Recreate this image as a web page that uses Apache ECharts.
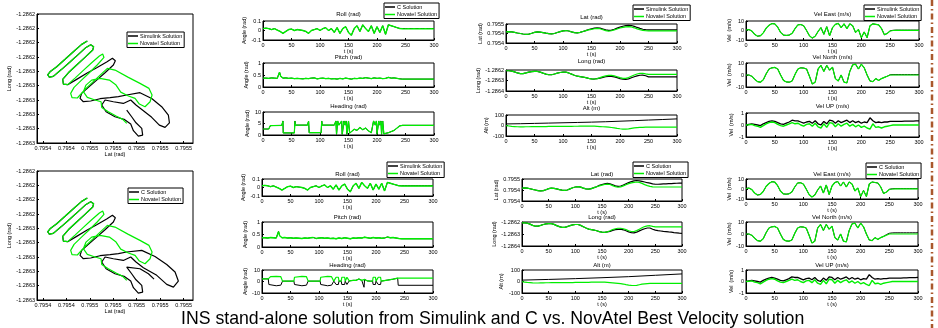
<!DOCTYPE html>
<html>
<head>
<meta charset="utf-8">
<script src="https://cdn.jsdelivr.net/npm/echarts@6/dist/echarts.min.js"></script>
<style>
  html, body { margin: 0; padding: 0; background: #fff; }
  #chart { width: 938px; height: 328px; }
</style>
</head>
<body>
<div id="chart"></div>
<script>
// ---- data ----
const tSec = [0,5,10,15,20,25,30,35,40,45,50,55,60,65,70,75,80,85,90,95,100,105,110,115,120,125,130,135,140,145,
  150,155,160,165,170,175,180,185,190,195,200,205,210,215,220,225,230,235,240,245,250,255,260,265,270,275,280,285,290,295,300];

// lat tick values on the trajectory plots
const trajLatTicks = [0.79542,0.79544,0.79546,0.79548,0.7955,0.79552,0.79554];

const rollNov = [0.02,0.025,0.02,0.01,0.02,0.005,-0.01,-0.03,-0.01,0.01,0.015,0,0.01,0.005,0,-0.01,-0.03,0,0.01,0.02,
  0,0.02,0.03,0,0.02,-0.02,0.03,-0.03,0.02,0.04,-0.02,-0.05,0.02,0.05,-0.01,0.06,0.02,-0.01,0.05,-0.03,
  0.04,-0.02,0.05,-0.04,0.06,0.05,0.04,0.03,0.02,0.018,0.017,0.018,0.017,0.018,0.017,0.018,0.017,0.018,0.017,0.018,0.017];
const rollSol = [0.02,0.025,0.02,0.01,0.02,0.005,-0.01,-0.03,-0.01,0.01,0.015,0,0.01,0.005,0,-0.01,-0.03,0,0.01,0.02,
  0,0.02,0.03,0,0.02,-0.02,0.03,-0.03,0.02,0.04,-0.02,-0.05,0.02,0.05,-0.01,0.06,0.02,-0.01,0.05,-0.03,
  0.04,-0.02,0.05,-0.04,0.06,0.05,0.04,0.03,0.022,0.021,0.021,0.021,0.021,0.021,0.021,0.021,0.021,0.021,0.021,0.021,0.021];

const pitchNov = [[0,0.37],[5,0.37],[10,0.36],[15,0.38],[20,0.37],[25,0.36],[28,0.37],[29,0.62],[30,0.66],[31,0.45],[32,0.38],
  [35,0.37],[40,0.38],[45,0.36],[50,0.37],[55,0.35],[60,0.36],[65,0.35],[70,0.34],[75,0.36],[80,0.35],[85,0.37],[90,0.38],
  [95,0.34],[100,0.36],[105,0.37],[110,0.35],[115,0.36],[120,0.34],[125,0.35],[130,0.33],[135,0.36],[140,0.34],[145,0.37],
  [150,0.35],[155,0.33],[160,0.36],[165,0.35],[170,0.37],[175,0.36],[180,0.39],[185,0.37],[190,0.35],[195,0.38],[200,0.36],
  [205,0.37],[210,0.35],[215,0.36],[220,0.4],[225,0.37],[230,0.38],[235,0.36],[240,0.34],[245,0.33],[300,0.33]];

const headTopNov = [[0,2.6],[10,2.6],[13,4.1],[33,4.2],[35,6.1],[35.5,0.9],[55,0.9],[56,6.1],[57,4.3],[78,4.3],[80,6.0],
  [81,1.0],[102,1.0],[103,6.1],[104,4.3],[125,4.3],[128,6.1],[129,0.3],[131,6.1],[133,4.3],[138,6.1],[139,0.3],[142,6.1],
  [144,4.3],[146,6.1],[147,0.3],[150,6.1],[152,0.8],[155,1.0],[160,2.5],[165,2.0],[170,3.3],[175,2.3],[180,3.0],[185,1.8],
  [190,1.0],[192,0.5],[194,6.1],[197,4.3],[199,6.1],[200,0.3],[203,6.1],[205,4.3],[207,6.1],[208,0.3],[210,6.1],[212,0.5],
  [220,1.0],[230,2.0],[240,4.0],[245,4.2],[300,4.2]];

const headBotNov = [[0,2.3],[11,2.3],[12,3.7],[15,4.2],[25,4.4],[33,4.2],[35,3.7],[36,0.3],[56,0.3],[57,3.7],[60,4.2],[70,4.4],
  [78,4.2],[80,3.7],[81,0.3],[102,0.3],[103,3.7],[106,4.2],[115,4.4],[122,4.2],[125,3.7],[126,0.3],[129,0.3],[130,3.7],[134,3.7],
  [135,0.3],[139,0.3],[140,3.7],[145,3.7],[146,0.3],[148,0.3],[149,3.7],[152,3.7],[153,0.5],[160,1.0],[165,1.0],[170,2.2],
  [175,1.0],[180,1.8],[185,0.5],[190,0.3],[194,0.3],[195,3.7],[199,3.7],[200,0.3],[203,0.3],[204,3.7],[208,3.7],[209,0.3],
  [212,0.3],[220,1.2],[230,2.0],[238,2.9],[240,3.0],[300,3.0]];
const headBotSol = [[0,2.3],[11,2.3],[12,-2.6],[15,-3.2],[25,-3.7],[33,-3.2],[35,-2.6],[36,0.3],[56,0.3],[57,-2.6],[60,-3.2],
  [70,-3.7],[78,-3.2],[80,-2.6],[81,0.3],[102,0.3],[103,-2.6],[106,-3.2],[115,-3.7],[122,-3.2],[125,-2.6],[126,0.3],[129,0.3],
  [130,-2.6],[134,-2.6],[135,0.3],[139,0.3],[140,-2.6],[145,-2.6],[146,0.3],[148,0.3],[149,-2.6],[152,-2.6],[153,0.5],[160,1.0],
  [165,1.0],[170,2.2],[175,1.0],[178,1.5],[179,-5.0],[180,1.8],[185,0.5],[190,0.3],[194,0.3],[195,-2.6],[199,-2.6],[200,0.3],
  [203,0.3],[204,-2.6],[208,-2.6],[209,0.3],[212,0.3],[220,1.2],[230,2.0],[238,2.9],[239,-3.3],[300,-3.3]];

const latNov = [0.795454,0.795455,0.795453,0.795449,0.795444,0.795440,0.795436,0.795433,0.795435,0.795442,
  0.795450,0.795454,0.795452,0.795448,0.795443,0.795439,0.795437,0.795440,0.795448,0.795456,
  0.795462,0.795465,0.795461,0.795454,0.795448,0.795446,0.795450,0.795457,0.795464,0.795470,
  0.795475,0.795480,0.795483,0.795480,0.795472,0.795464,0.795460,0.795463,0.795470,0.795478,
  0.795486,0.795492,0.795496,0.795498,0.795495,0.795488,0.795479,0.795472,0.795466,0.795463,
  0.795462,0.795462,0.795462,0.795462,0.795462,0.795462,0.795462,0.795462,0.795462,0.795462,0.795462];
const latSim = [0.795454,0.795455,0.795453,0.795449,0.795444,0.795440,0.795436,0.795433,0.795435,0.795442,
  0.795450,0.795454,0.795452,0.795448,0.795443,0.795439,0.795437,0.795440,0.795448,0.795456,
  0.795462,0.795465,0.795461,0.795454,0.795448,0.795446,0.795450,0.795457,0.795464,0.795474,
  0.795480,0.795485,0.795488,0.795485,0.795478,0.795470,0.795466,0.795469,0.795476,0.795485,
  0.795494,0.795501,0.795506,0.795509,0.795507,0.795500,0.795491,0.795483,0.795476,0.795472,
  0.795470,0.795470,0.795470,0.795470,0.795470,0.795470,0.795470,0.795470,0.795470,0.795470,0.795470];
const latC = [0.795454,0.795455,0.795453,0.795449,0.795444,0.795440,0.795436,0.795433,0.795435,0.795442,
  0.795450,0.795454,0.795452,0.795448,0.795443,0.795439,0.795437,0.795440,0.795448,0.795456,
  0.795462,0.795465,0.795461,0.795454,0.795448,0.795446,0.795450,0.795457,0.795464,0.795474,
  0.795480,0.795485,0.795488,0.795485,0.795478,0.795470,0.795466,0.795469,0.795476,0.795485,
  0.795494,0.795501,0.795506,0.795509,0.795507,0.795503,0.795498,0.795493,0.795490,0.795485,
  0.795482,0.795482,0.795483,0.795484,0.795485,0.795486,0.795487,0.795488,0.795489,0.795490,0.795490];

const longNov = [-1.286207,-1.286207,-1.286210,-1.286218,-1.286228,-1.286235,-1.286234,-1.286228,-1.286221,-1.286216,
  -1.286214,-1.286214,-1.286220,-1.286230,-1.286239,-1.286245,-1.286245,-1.286238,-1.286230,-1.286224,
  -1.286221,-1.286221,-1.286228,-1.286239,-1.286250,-1.286259,-1.286263,-1.286267,-1.286273,-1.286280,
  -1.286285,-1.286286,-1.286282,-1.286273,-1.286263,-1.286256,-1.286252,-1.286252,-1.286256,-1.286264,
  -1.286273,-1.286279,-1.286279,-1.286272,-1.286260,-1.286248,-1.286238,-1.286232,-1.286231,-1.286237,
  -1.286241,-1.286241,-1.286241,-1.286241,-1.286241,-1.286241,-1.286241,-1.286241,-1.286241,-1.286241,-1.286241];
const longSim = [-1.286207,-1.286207,-1.286210,-1.286218,-1.286228,-1.286235,-1.286234,-1.286228,-1.286221,-1.286216,
  -1.286214,-1.286214,-1.286220,-1.286230,-1.286239,-1.286245,-1.286245,-1.286238,-1.286230,-1.286224,
  -1.286221,-1.286221,-1.286228,-1.286239,-1.286250,-1.286259,-1.286263,-1.286267,-1.286273,-1.286280,
  -1.286285,-1.286286,-1.286282,-1.286278,-1.286270,-1.286264,-1.286262,-1.286260,-1.286265,-1.286273,
  -1.286282,-1.286288,-1.286290,-1.286285,-1.286274,-1.286264,-1.286256,-1.286250,-1.286249,-1.286255,
  -1.286265,-1.286265,-1.286265,-1.286265,-1.286265,-1.286265,-1.286265,-1.286265,-1.286265,-1.286265,-1.286265];
const longC = [-1.286207,-1.286207,-1.286210,-1.286218,-1.286228,-1.286235,-1.286234,-1.286228,-1.286221,-1.286216,
  -1.286214,-1.286214,-1.286220,-1.286230,-1.286239,-1.286245,-1.286245,-1.286238,-1.286230,-1.286224,
  -1.286221,-1.286221,-1.286228,-1.286239,-1.286250,-1.286259,-1.286263,-1.286267,-1.286273,-1.286280,
  -1.286285,-1.286286,-1.286282,-1.286278,-1.286270,-1.286264,-1.286262,-1.286260,-1.286265,-1.286273,
  -1.286282,-1.286288,-1.286290,-1.286285,-1.286274,-1.286264,-1.286256,-1.286250,-1.286250,-1.286260,
  -1.286268,-1.286272,-1.286275,-1.286278,-1.286280,-1.286283,-1.286285,-1.286288,-1.286290,-1.286293,-1.286295];

const altNov = [-2,-5,-8,-10,-12,-13,-13,-12,-12,-11,-11,-10,-10,-10,-10,-9,-9,-9,-9,-9,
  -8,-8,-8,-8,-7,-7,-6,-6,-5,-5,-5,-6,-8,-10,-12,-14,-16,-19,-22,-27,
  -31,-34,-35,-33,-28,-23,-20,-18,-17,-16,-16,-16,-16,-16,-16,-16,-16,-16,-16,-16,-16];
const altSim = [[0,15],[25,17],[50,20],[75,23],[100,26],[125,29],[150,32],[175,36],[200,41],[225,46],[250,52],[275,57],[300,63]];
const altC = [[0,12],[50,18],[100,25],[150,33],[200,42],[250,54],[300,66]];

const velEastNov = [0.5,1,-0.5,-4,-6,-5.5,-2.5,2.5,5.5,7.3,7,3.5,-2,-4.8,-5.2,-4.8,-3,2,6,6.3,
  5,0,-5.5,-8,-6,-1,3,-4,4,-5.5,3,6.5,7.5,3,7,2,7,5,-2,1,
  -7.5,-1.5,-7.5,5,7,6.5,6,2,-4.5,-3,-0.5,0,0.2,0.2,0.2,0.2,0.2,0.2,0.2,0.2,0.2];
const velEastSol = [0.5,1,-0.5,-4,-6,-5.5,-2.5,2.5,5.5,7.3,7,3.5,-2,-4.8,-5.2,-4.8,-3,2,6,6.3,
  5,0,-5.5,-8,-6,-1,3,-4,4,-5.5,3,6.5,7.5,3,7,2,7,5,-2,1,
  -7.5,-1.5,-7.5,5,7,6.5,6,2,-4.5,-3,-0.3,0.2,0.4,0.4,0.4,0.4,0.4,0.4,0.4,0.4,0.4];

const velNorthNov = [0,0,-1,-3.5,-5.5,-6,-4,1,5,6,6.3,5,0,-4.5,-5.8,-6,-5,0.5,5,6,
  5.8,5,-1,-7.5,-6,5,8,3,8,4,6.5,-3,-5,0,-6,-6.5,3,8.5,9,5,
  9,6,0,-5,-5.5,-3,-4.5,-3,-2,-1,0,0,0,0,0,0,0,0,0,0,0];
const velNorthSim = [0,0,-1,-3.5,-5.5,-6,-4,1,5,6,6.3,5,0,-4.5,-5.8,-6,-5,0.5,5,6,
  5.8,5,-1,-7.5,-6,5,8,3,8,4,6.5,-3,-5,0,-6,-6.5,3,8.5,9,5,
  9,6,0,-5,-5.5,-3,-4.5,-3,-2,-1,0.2,0.3,0.3,0.3,0.3,0.3,0.3,0.3,0.3,0.3,0.3];
const velNorthC = [0,0,-1,-3.5,-5.5,-6,-4,1,5,6,6.3,5,0,-4.5,-5.8,-6,-5,0.5,5,6,
  5.8,5,-1,-7.5,-6,5,8,3,8,4,6.5,-3,-5,0,-6,-6.5,3,8.5,9,5,
  9,6,0,-5,-5.5,-3,-4.5,-3,-2,-0.5,0.6,0.9,1,1,1,1,1,1,1,1,1];

const velUpNov = [0,0.02,0.05,-0.05,-0.1,-0.2,-0.05,0.1,0.2,0.25,0.2,0.05,-0.05,-0.1,0,0.1,0.2,0.1,0.15,0,
  -0.1,0.05,0.1,-0.1,0.15,-0.15,-0.25,0.1,-0.2,0.2,0.15,-0.15,0.1,-0.1,0.05,0.15,-0.1,0.05,-0.15,0,
  -0.2,-0.1,-0.25,-0.35,0.1,-0.2,-0.15,-0.25,-0.15,-0.1,-0.05,0,0,0,0,0,0,0,0,0,0];
const velUpSol = [0,0.05,0.1,0.05,0,-0.05,0.1,0.2,0.3,0.35,0.3,0.2,0.1,0.05,0.15,0.25,0.4,0.35,0.35,0.25,
  0.15,0.25,0.3,0.15,0.35,0.1,0,0.3,0.1,0.4,0.35,0.15,0.35,0.2,0.3,0.4,0.2,0.35,0.2,0.3,
  0.15,0.25,0.2,0.6,0.35,0.2,0.25,0.2,0.25,0.25,0.3,0.3,0.3,0.3,0.3,0.32,0.32,0.33,0.33,0.34,0.35];

// trajectory (lat, long)
const trajNovLat = [0.7954579,0.7954531,0.7954460,0.7954389,0.7954318,0.7954261,0.7954241,0.7954255,0.7954289,0.7954360,
  0.7954431,0.7954503,0.7954568,0.7954608,0.7954633,0.7954625,0.7954559,0.7954488,0.7954417,0.7954369,
  0.7954375,0.7954412,0.7954474,0.7954545,0.7954616,0.7954682,0.7954710,0.7954721,0.7954665,0.7954596,
  0.7954525,0.7954466,0.7954437,0.7954449,0.7954494,0.7954568,0.7954659,0.7954750,0.7954815,0.7954929,
  0.7955028,0.7955105,0.7955131,0.7955114,0.7955071,0.7955023,0.7954986,0.7954929,0.7954864,0.7954824,
  0.7954767,0.7954687,0.7954616,0.7954568,0.7954545,0.7954579,0.7954645,0.7954696,0.7954702,0.7954758,
  0.7954824,0.7954881,0.7954915];
const trajNovLong = [-1.2862288,-1.2862312,-1.2862363,-1.2862416,-1.2862468,-1.2862503,-1.2862524,-1.2862540,-1.2862535,-1.2862486,
  -1.2862435,-1.2862382,-1.2862333,-1.2862314,-1.2862328,-1.2862351,-1.2862403,-1.2862456,-1.2862510,-1.2862556,
  -1.2862589,-1.2862593,-1.2862547,-1.2862493,-1.2862440,-1.2862393,-1.2862379,-1.2862403,-1.2862454,-1.2862510,
  -1.2862565,-1.2862612,-1.2862654,-1.2862684,-1.2862686,-1.2862619,-1.2862549,-1.2862479,-1.2862491,-1.2862542,
  -1.2862584,-1.2862619,-1.2862665,-1.2862712,-1.2862747,-1.2862728,-1.2862689,-1.2862672,-1.2862645,-1.2862596,
  -1.2862561,-1.2862549,-1.2862561,-1.2862596,-1.2862642,-1.2862682,-1.2862700,-1.2862712,-1.2862752,-1.2862782,
  -1.2862812,-1.2862835,-1.2862863];

const trajSimLat = [0.7954579,0.7954531,0.7954460,0.7954389,0.7954318,0.7954261,0.7954241,0.7954255,0.7954289,0.7954360,
  0.7954431,0.7954503,0.7954568,0.7954608,0.7954633,0.7954625,0.7954559,0.7954488,0.7954417,0.7954369,
  0.7954375,0.7954412,0.7954488,0.7954574,0.7954659,0.7954744,0.7954793,0.7954818,0.7954801,0.7954730,
  0.7954659,0.7954588,0.7954531,0.7954517,0.7954545,0.7954608,0.7954687,0.7954773,0.7954844,0.7954915,
  0.7955028,0.7955128,0.7955213,0.7955270,0.7955279,0.7955242,0.7955193,0.7955128,0.7955057,0.7954994,
  0.7954949,0.7954886,0.7954801,0.7954730,0.7954702,0.7954739,0.7954815,0.7954892,0.7954949,0.7954972,
  0.7955014,0.7955051,0.7955043,0.7954994,0.7954957,0.7954915];
const trajSimLong = [-1.2862288,-1.2862312,-1.2862363,-1.2862416,-1.2862468,-1.2862503,-1.2862524,-1.2862540,-1.2862535,-1.2862486,
  -1.2862435,-1.2862382,-1.2862333,-1.2862314,-1.2862328,-1.2862351,-1.2862403,-1.2862456,-1.2862510,-1.2862556,
  -1.2862589,-1.2862593,-1.2862556,-1.2862514,-1.2862475,-1.2862435,-1.2862409,-1.2862426,-1.2862456,-1.2862510,
  -1.2862561,-1.2862612,-1.2862654,-1.2862689,-1.2862712,-1.2862707,-1.2862691,-1.2862684,-1.2862677,-1.2862665,
  -1.2862649,-1.2862689,-1.2862747,-1.2862805,-1.2862859,-1.2862891,-1.2862875,-1.2862821,-1.2862775,-1.2862735,
  -1.2862700,-1.2862724,-1.2862712,-1.2862700,-1.2862735,-1.2862782,-1.2862817,-1.2862835,-1.2862868,-1.2862914,
  -1.2862952,-1.2862945,-1.2862898,-1.2862859,-1.2862817,-1.2862770];

const trajCLat = [0.7954579,0.7954531,0.7954460,0.7954389,0.7954318,0.7954261,0.7954241,0.7954255,0.7954289,0.7954360,
  0.7954431,0.7954503,0.7954568,0.7954608,0.7954633,0.7954625,0.7954559,0.7954488,0.7954417,0.7954369,
  0.7954375,0.7954412,0.7954488,0.7954574,0.7954659,0.7954744,0.7954793,0.7954818,0.7954801,0.7954730,
  0.7954659,0.7954588,0.7954531,0.7954517,0.7954545,0.7954608,0.7954687,0.7954773,0.7954844,0.7954915,
  0.7955043,0.7955156,0.7955256,0.7955327,0.7955355,0.7955313,0.7955256,0.7955171,0.7955057,0.7954994,
  0.7954949,0.7954886,0.7954801,0.7954730,0.7954702,0.7954739,0.7954815,0.7954892,0.7954949,0.7954972,
  0.7955014,0.7955051,0.7955043,0.7954994,0.7954957,0.7954915,0.7955028,0.7955100,0.7955148];
const trajCLong = [-1.2862288,-1.2862312,-1.2862363,-1.2862416,-1.2862468,-1.2862503,-1.2862524,-1.2862540,-1.2862535,-1.2862486,
  -1.2862435,-1.2862382,-1.2862333,-1.2862314,-1.2862328,-1.2862351,-1.2862403,-1.2862456,-1.2862510,-1.2862556,
  -1.2862589,-1.2862593,-1.2862556,-1.2862514,-1.2862475,-1.2862435,-1.2862409,-1.2862426,-1.2862456,-1.2862510,
  -1.2862561,-1.2862612,-1.2862654,-1.2862689,-1.2862712,-1.2862707,-1.2862691,-1.2862684,-1.2862677,-1.2862665,
  -1.2862654,-1.2862696,-1.2862752,-1.2862805,-1.2862868,-1.2862910,-1.2862891,-1.2862828,-1.2862775,-1.2862735,
  -1.2862700,-1.2862724,-1.2862712,-1.2862700,-1.2862735,-1.2862782,-1.2862817,-1.2862835,-1.2862868,-1.2862914,
  -1.2862952,-1.2862945,-1.2862898,-1.2862859,-1.2862817,-1.2862770,-1.2862782,-1.2862817,-1.2862854];

const caption = 'INS stand-alone solution from Simulink and C vs. NovAtel Best Velocity solution';

// ---- layout / styling ----
const FONT = 'Liberation Sans';
const BLACK = '#000000';
const GREEN = '#00ee00';

const grids = [], xAxes = [], yAxes = [], series = [], legends = [], graphics = [];

function panel(box, c) {
  const gi = grids.length;
  grids.push({ left: box[0], top: box[1], width: box[2], height: box[3], show: true,
    borderColor: '#000', borderWidth: 1, backgroundColor: '#fff' });
  const lbl = { fontSize: 5.5, fontFamily: FONT, color: '#000', margin: 2 };
  const xLabel = Object.assign({}, lbl, { formatter: c.xFmt, showMinLabel: true, showMaxLabel: true });
  const xTick = { inside: true, length: 2, lineStyle: { color: '#000' } };
  if (c.xTicks) { xLabel.customValues = c.xTicks; xTick.customValues = c.xTicks; }
  xAxes.push({
    gridIndex: gi, type: 'value',
    min: c.xMin != null ? c.xMin : 0, max: c.xMax != null ? c.xMax : 300, interval: c.xInt || 50,
    name: c.xName || 't (s)', nameLocation: 'middle', nameGap: c.xGap || 6,
    nameTextStyle: { fontSize: 5.5, fontFamily: FONT, color: '#000' },
    axisLine: { show: true, onZero: false, lineStyle: { color: '#000', width: 1 } },
    axisTick: xTick,
    axisLabel: xLabel,
    splitLine: { show: false }
  });
  yAxes.push({
    gridIndex: gi, type: 'value', min: c.yMin, max: c.yMax, interval: c.yInt,
    name: c.yName, nameLocation: 'middle', nameGap: c.yGap,
    nameTextStyle: { fontSize: 5.5, fontFamily: FONT, color: '#000' },
    axisLine: { show: true, onZero: false, lineStyle: { color: '#000', width: 1 } },
    axisTick: { inside: true, length: 2, lineStyle: { color: '#000' } },
    axisLabel: Object.assign({}, lbl, { formatter: c.yFmt, showMinLabel: true, showMaxLabel: true }),
    splitLine: { show: false }
  });
  if (c.title) {
    graphics.push({ type: 'text', x: box[0] + box[2] / 2, y: c.titleY,
      style: { text: c.title, fill: '#000', font: '6px ' + FONT, align: 'center', verticalAlign: 'middle' } });
  }
  return gi;
}

function line(gi, name, data, color, width) {
  series.push({ type: 'line', name: name, xAxisIndex: gi, yAxisIndex: gi, data: data,
    showSymbol: false, symbol: 'none', animation: false, silent: true,
    lineStyle: { color: color, width: width }, itemStyle: { color: color } });
}

const byTime = vals => tSec.map((t, i) => [t, vals[i]]);
const zip = (a, b) => a.map((v, i) => [v, b[i]]);

function legend(left, top, names) {
  legends.push({ data: names, left: left, top: top, orient: 'vertical', icon: 'rect',
    itemWidth: 10, itemHeight: 1.5, itemGap: 1.5, padding: [1, 2, 1, 1], selectedMode: false,
    backgroundColor: '#fff', borderColor: '#000', borderWidth: 1, borderRadius: 0,
    textStyle: { fontSize: 5.5, fontFamily: FONT, color: '#000', padding: [0, 0, 0, -3] } });
}

const fmt4 = v => v.toFixed(4);
const fmtLong = v => (v - 1e-9).toFixed(4);

function row(r) {
  const top = r === 0;
  const solName = top ? 'Simulink Solution' : 'C Solution';
  const attName = top ? 'C Solution' : 'Simulink Solution';

  // trajectory
  const tb = top ? [37, 14, 156, 129] : [37, 171, 156, 129];
  let g = panel(tb, { xMin: 0.795415, xMax: 0.795548, xInt: 0.00002, xFmt: fmt4, xTicks: trajLatTicks,
    xName: 'Lat (rad)', xGap: 7, yMin: -1.2863, yMax: -1.28621, yInt: 0.00001, yFmt: fmtLong,
    yName: 'Long (rad)', yGap: 24 });
  line(g, solName, top ? zip(trajSimLat, trajSimLong) : zip(trajCLat, trajCLong), BLACK, 1.2);
  line(g, 'Novatel Solution', zip(trajNovLat, trajNovLong), GREEN, 1.2);
  legend(top ? 127 : 128, top ? 32 : 188, [solName, 'Novatel Solution']);

  // attitude
  const ax = top ? 263 : 262;
  const rb = top ? [[21, 19, 14], [63, 24, 57], [112, 23, 106]] : [[179, 17, 174], [222, 25, 217], [270, 23, 265]];
  g = panel([ax, rb[0][0], 171, rb[0][1]], { yMin: -0.1, yMax: 0.1, yInt: 0.1, yName: 'Angle (rad)', yGap: 12,
    title: 'Roll (rad)', titleY: rb[0][2] });
  line(g, attName, byTime(rollSol), BLACK, 1);
  line(g, 'Novatel Solution', byTime(rollNov), GREEN, 1.4);
  g = panel([ax, rb[1][0], 171, rb[1][1]], { yMin: 0, yMax: 1, yInt: 0.5, yName: 'Angle (rad)', yGap: 12,
    title: 'Pitch (rad)', titleY: rb[1][2] });
  line(g, attName, pitchNov, BLACK, 1);
  line(g, 'Novatel Solution', pitchNov, GREEN, 1.3);
  g = panel([ax, rb[2][0], 171, rb[2][1]], top
    ? { yMin: 0, yMax: 10, yInt: 5, yName: 'Angle (rad)', yGap: 12, title: 'Heading (rad)', titleY: rb[2][2] }
    : { yMin: -10, yMax: 10, yInt: 10, yName: 'Angle (rad)', yGap: 12, title: 'Heading (rad)', titleY: rb[2][2] });
  line(g, attName, top ? headTopNov : headBotSol, BLACK, 1);
  line(g, 'Novatel Solution', top ? headTopNov : headBotNov, GREEN, 1.2);
  legend(top ? 384 : 387, top ? 3 : 162, [attName, 'Novatel Solution']);

  // position
  const px = top ? 506 : 522, pw = top ? 171 : 160;
  const pb = top ? [[24, 19, 17], [70, 21, 61], [115, 21, 108]] : [[179, 22, 174], [222, 24, 217], [270, 23, 265]];
  g = panel([px, pb[0][0], pw, pb[0][1]], { yMin: 0.79536, yMax: 0.79552, yInt: 0.00008, yFmt: fmt4,
    yName: 'Lat (rad)', yGap: top ? 19 : 20, title: 'Lat (rad)', titleY: pb[0][2] });
  line(g, solName, byTime(top ? latSim : latC), BLACK, 1.2);
  line(g, 'Novatel Solution', byTime(latNov), GREEN, 1.2);
  g = panel([px, pb[1][0], pw, pb[1][1]], { yMin: -1.2864, yMax: -1.2862, yInt: 0.0001, yFmt: fmt4,
    yName: 'Long (rad)', yGap: top ? 21 : 24, title: 'Long (rad)', titleY: pb[1][2] });
  line(g, solName, byTime(top ? longSim : longC), BLACK, 1.2);
  line(g, 'Novatel Solution', byTime(longNov), GREEN, 1.2);
  g = panel([px, pb[2][0], pw, pb[2][1]], { yMin: -100, yMax: 100, yInt: 100,
    yName: 'Alt (m)', yGap: top ? 13 : 18, title: 'Alt (m)', titleY: pb[2][2] });
  line(g, solName, top ? altSim : altC, BLACK, 1);
  line(g, 'Novatel Solution', byTime(altNov), GREEN, 1.2);
  legend(633, top ? 5 : 162, [solName, 'Novatel Solution']);

  // velocity
  const vw = top ? 173 : 172;
  const vb = top ? [[21, 19, 14], [63, 24, 57], [113, 24, 106]] : [[179, 20, 174], [222, 24, 217], [270, 23, 265]];
  g = panel([746, vb[0][0], vw, vb[0][1]], { yMin: -10, yMax: 10, yInt: 10, yName: 'Vel  (m/s)', yGap: 12,
    title: 'Vel East (m/s)', titleY: vb[0][2] });
  line(g, solName, byTime(velEastSol), BLACK, 1);
  line(g, 'Novatel Solution', byTime(velEastNov), GREEN, 1.2);
  g = panel([746, vb[1][0], vw, vb[1][1]], { yMin: -10, yMax: 10, yInt: 10, yName: 'Vel  (m/s)', yGap: 12,
    title: 'Vel North (m/s)', titleY: vb[1][2] });
  line(g, solName, byTime(top ? velNorthSim : velNorthC), BLACK, 1);
  line(g, 'Novatel Solution', byTime(velNorthNov), GREEN, 1.2);
  g = panel([746, vb[2][0], vw, vb[2][1]], { yMin: -1, yMax: 1, yInt: 1, yName: 'Vel  (m/s)', yGap: 12,
    title: 'Vel UP (m/s)', titleY: vb[2][2] });
  line(g, solName, byTime(velUpSol), BLACK, 1.3);
  line(g, 'Novatel Solution', byTime(velUpNov), GREEN, 1.4);
  legend(top ? 864 : 866, top ? 5 : 163, [solName, 'Novatel Solution']);
}

row(0);
row(1);

graphics.push({ type: 'text', x: 181, y: 319,
  style: { text: caption, fill: '#000', font: '17.7px ' + FONT, align: 'left', verticalAlign: 'middle' } });
graphics.push({ type: 'line', shape: { x1: 932, y1: 0, x2: 932, y2: 328 },
  style: { stroke: '#a9582d', lineWidth: 2.5, lineDash: [6, 3, 1.5, 3] } });

const chart = echarts.init(document.getElementById('chart'), null, { renderer: 'canvas' });
chart.setOption({
  backgroundColor: '#fff',
  animation: false,
  grid: grids,
  xAxis: xAxes,
  yAxis: yAxes,
  legend: legends,
  graphic: graphics,
  series: series
});
</script>
</body>
</html>
